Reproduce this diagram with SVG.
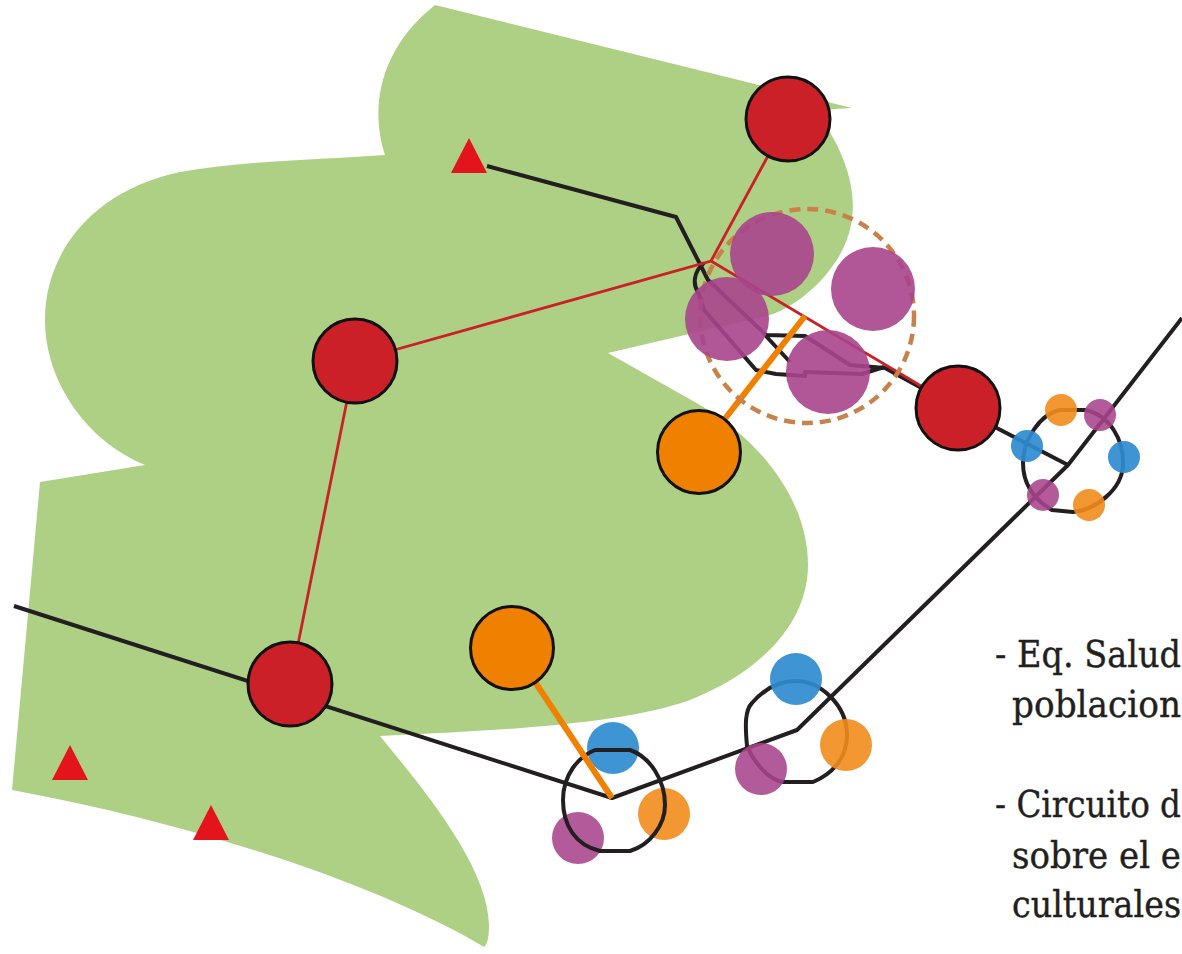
<svg xmlns="http://www.w3.org/2000/svg" width="1182" height="954" viewBox="0 0 1182 954">
<style>
.k{fill:none;stroke:#231f20;stroke-width:4;stroke-linejoin:round}
.r{fill:none;stroke:#cb2027;stroke-width:2.8}
.o{fill:none;stroke:#f08000;stroke-width:6}
.nr{fill:#cb2027;stroke:#111;stroke-width:3}
.no{fill:#f08000;stroke:#111;stroke-width:3}
.p{fill:#a9448c;fill-opacity:.9}
.s-p{fill:#a9448c;fill-opacity:.88}
.s-b{fill:#2f8bd0;fill-opacity:.92}
.s-o{fill:#f28c1c;fill-opacity:.9}
.t{fill:#e3141c}
text{font-family:"DejaVu Serif","Liberation Serif",serif;font-size:38px;fill:#231f20;stroke:#231f20;stroke-width:.4}
</style>
<rect width="1182" height="954" fill="#fff"/>
<path id="territory" fill="#aed085" d="M435,5 L852,108 L815,110 C845,150 858,190 851,225 C842,270 800,305 770,315 L608,353 L700,405 C760,440 808,500 808,565 C808,620 765,670 690,700 C620,725 500,730 380,736 C420,785 488,865 489,925 C489,938 487,945 484,947 C380,885 200,825 12,790 L40,482 L145,465 C85,440 45,380 45,320 C45,250 95,190 180,172 C250,160 320,160 385,155 C370,110 378,50 435,5 Z"/>
<g id="connectors">
<path class="k" d="M487,166 L676,217 L708,280 L766,335 L805,336 L850,365 L885,368 L958,408"/>
<path class="k" d="M704,263 C693,272 693,285 698,292 L704,310 L756,370 L776,374 L805,376 L805,372 L862,374 L884,367"/>
<path class="k" d="M765,335 L790,362"/>
<path class="k" d="M958,408 L1068,465"/>
<path class="k" d="M14,606 L612,798 L797,730 L1068,465 L1182,318"/>
<path class="k" d="M1023,463 C1023,485 1035,500 1052,510 L1073,512 C1095,510 1122,490 1123,465 C1124,440 1110,415 1085,410 L1060,410 C1040,414 1023,440 1023,463Z"/>
<path class="k" d="M747,746 C745,725 745,710 752,703 C765,688 780,681 796,681 C820,681 847,705 847,735 C847,760 830,775 813,782 L783,782 C770,780 755,765 747,746Z"/>
<path class="r" d="M788,119 L711,261 L355,361 L290,684 M711,261 L958,408"/>
<path class="o" d="M805,316 L699,452"/>
</g>
<circle id="area" cx="807" cy="316" r="107" fill="none" stroke="#c9814a" stroke-width="4.5" stroke-dasharray="11 7"/>
<g id="cluster-center">
<circle class="p" cx="772" cy="254" r="42"/>
<circle class="p" cx="873" cy="289" r="42"/>
<circle class="p" cx="727" cy="319" r="42"/>
<circle class="p" cx="828" cy="372" r="42"/>
</g>
<g id="node-red-1"><circle class="nr" cx="788" cy="119" r="42"/></g>
<g id="node-red-2"><circle class="nr" cx="355" cy="361" r="42"/></g>
<g id="node-red-3"><circle class="nr" cx="958" cy="408" r="42"/></g>
<g id="node-red-4"><circle class="nr" cx="290" cy="684" r="42"/></g>
<g id="node-orange-1"><circle class="no" cx="699" cy="452" r="41.5"/></g>
<g id="cluster-right">
<circle class="s-b" cx="1027" cy="446" r="16"/>
<circle class="s-o" cx="1061" cy="410" r="16"/>
<circle class="s-p" cx="1100" cy="415" r="16"/>
<circle class="s-b" cx="1124" cy="457" r="16"/>
<circle class="s-o" cx="1089" cy="505" r="16"/>
<circle class="s-p" cx="1043" cy="495" r="16"/>
</g>
<g id="cluster-bottom-left">
<circle class="s-b" cx="613" cy="748" r="26"/>
<circle class="s-o" cx="664" cy="814" r="26"/>
<circle class="s-p" cx="578" cy="838" r="26"/>
</g>
<g id="connectors-top">
<path class="k" d="M595,750 L630,750 C650,757 665,780 665,805 C665,825 650,845 630,851 L600,851 C575,845 563,825 563,800 C563,775 578,757 595,750Z"/>
<path class="o" d="M535,682 L612,798"/>
</g>
<g id="node-orange-2"><circle class="no" cx="512" cy="648" r="41.5"/></g>
<g id="cluster-bottom-mid">
<circle class="s-b" cx="796" cy="679" r="26"/>
<circle class="s-o" cx="846" cy="745" r="26"/>
<circle class="s-p" cx="761" cy="769" r="26"/>
</g>
<g id="triangles">
<polygon class="t" points="469,138 451,173 487,173"/>
<polygon class="t" points="70,745 52,780 88,780"/>
<polygon class="t" points="211,805 193,840 229,840"/>
</g>
<g id="labels">
<text x="995" y="667" textLength="186" lengthAdjust="spacingAndGlyphs">- Eq. Salud</text>
<text x="1012" y="717" textLength="169" lengthAdjust="spacingAndGlyphs">poblacion</text>
<text x="995" y="817" textLength="186" lengthAdjust="spacingAndGlyphs">- Circuito d</text>
<text x="1012" y="868" textLength="169" lengthAdjust="spacingAndGlyphs">sobre el e</text>
<text x="1012" y="917" textLength="169" lengthAdjust="spacingAndGlyphs">culturales</text>
</g>
</svg>
